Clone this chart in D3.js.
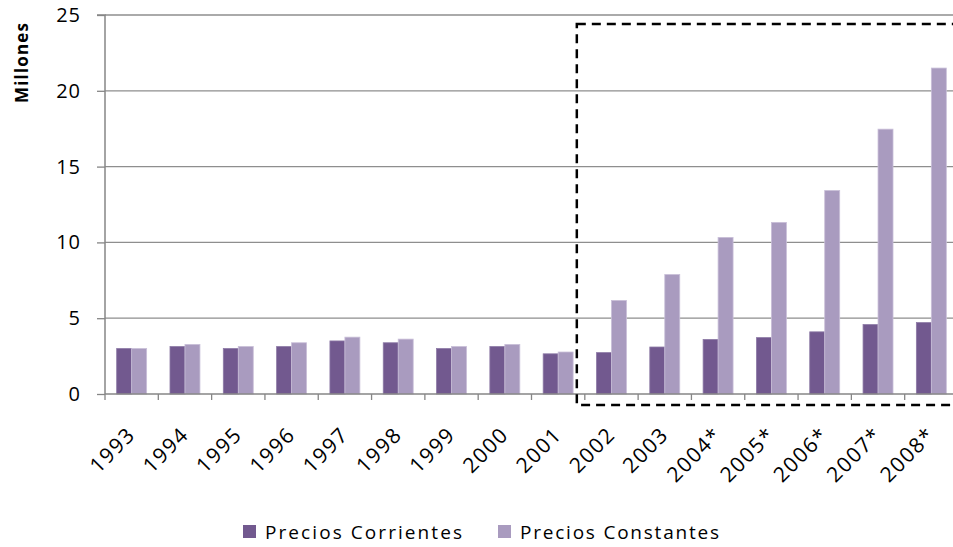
<!DOCTYPE html>
<html><head><meta charset="utf-8">
<script src="https://cdn.jsdelivr.net/npm/d3@7"></script>
<style>
body{margin:0;background:#fff;}
svg text{font-family:"Open Sans",sans-serif;fill:#000;}
</style></head>
<body>
<svg id="chart" width="953" height="547"></svg>
<script>
const categories = ["1993","1994","1995","1996","1997","1998","1999","2000","2001","2002","2003","2004*","2005*","2006*","2007*","2008*"];
const corrientes = [3.0,3.13,3.0,3.13,3.5,3.38,3.0,3.13,2.65,2.73,3.1,3.6,3.72,4.1,4.58,4.71];
const constantes = [3.0,3.27,3.13,3.38,3.75,3.62,3.13,3.27,2.77,6.17,7.88,10.33,11.32,13.42,17.47,21.5];
const seriesNames = ["Precios Corrientes","Precios Constantes"];
const yTicks = [0,5,10,15,20,25];
const highlightFrom = "2002";

const colors = ["#72598f","#a99bbf"];
const svg = d3.select("#chart");
const x = d3.scaleBand().domain(categories).range([105,958]).paddingInner(0).paddingOuter(0);
const xs = d3.scaleBand().domain([0,1]).range([0,x.bandwidth()]).paddingOuter(0.78).paddingInner(0);
const y = d3.scaleLinear().domain([0,25]).range([394,15]);

// gridlines
svg.append("g").selectAll("line").data(yTicks.filter(d=>d>0)).join("line")
  .attr("x1",105).attr("x2",953).attr("y1",d=>y(d)).attr("y2",d=>y(d))
  .attr("stroke","#8e8e8e").attr("stroke-width",1.3);

// bars
const data = categories.map((c,i)=>({c, v:[corrientes[i],constantes[i]]}));
const g = svg.append("g").selectAll("g").data(data).join("g")
  .attr("transform",d=>`translate(${x(d.c)},0)`);
g.selectAll("rect").data(d=>d.v.map((v,k)=>({v,k}))).join("rect")
  .attr("x",d=>xs(d.k)).attr("width",xs.bandwidth())
  .attr("y",d=>y(d.v)).attr("height",d=>y(0)-y(d.v))
  .attr("fill",d=>colors[d.k])
  .attr("stroke",d=>d.k===0?"#8d7aa6":"#c9bfd8").attr("stroke-width",0.8);

// y axis
const ya = d3.axisLeft(y).tickValues(yTicks).tickSize(8).tickPadding(16);
const yg = svg.append("g").attr("transform","translate(105,0)").call(ya);
yg.select(".domain").attr("stroke","#868686").attr("stroke-width",1.5).attr("d",`M-8,${y(25)}H0V${y(0)}`);
yg.selectAll(".tick line").attr("stroke","#868686").attr("stroke-width",1.3);
yg.selectAll(".tick text").attr("font-size",20).attr("font-family","Open Sans").attr("fill","#000").attr("letter-spacing",1);

// x axis
const xa = d3.axisBottom(x).tickSize(0).tickFormat(()=> "");
const xg = svg.append("g").attr("transform",`translate(0,${y(0)})`).call(xa);
xg.select(".domain").attr("stroke","#868686").attr("stroke-width",1.5).attr("d",`M105,0H953`);
xg.selectAll(".tick").remove();
xg.selectAll("line.b").data(categories.concat(["end"])).join("line").attr("class","b")
  .attr("x1",(d,i)=>105+i*x.step()).attr("x2",(d,i)=>105+i*x.step())
  .attr("y1",0).attr("y2",6).attr("stroke","#868686").attr("stroke-width",1.3);

// x labels
svg.append("g").selectAll("text").data(categories).join("text")
  .attr("transform",d=>`translate(${x(d)+x.bandwidth()/2+5},${436}) rotate(-45)`)
  .attr("text-anchor","end").attr("font-size",21).attr("letter-spacing",1.5)
  .text(d=>d);

// y title
svg.append("text").attr("transform",`translate(28,${63}) rotate(-90)`)
  .attr("text-anchor","middle").attr("font-size",17).attr("font-weight","bold")
  .attr("font-family","Open Sans").attr("textLength",80).attr("lengthAdjust","spacing").text("Millones");

// highlight dashed box
const bx = x(highlightFrom)-8;
svg.append("rect").attr("x",bx).attr("y",y(24.4)).attr("width",x.range()[1]+20-bx).attr("height",y(0)+11-y(24.4))
  .attr("fill","none").attr("stroke","#000").attr("stroke-width",2.5).attr("stroke-dasharray","9,6");

// legend
const lg = svg.append("g").selectAll("g").data(seriesNames).join("g")
  .attr("transform",(d,i)=>`translate(${[243,498][i]},525)`);
lg.append("rect").attr("width",13).attr("height",13).attr("fill",(d,i)=>colors[i]);
lg.append("text").attr("x",22).attr("y",14).attr("font-size",19)
  .attr("textLength",(d,i)=>[197,199][i]).attr("lengthAdjust","spacing").text(d=>d);
</script>
</body></html>
